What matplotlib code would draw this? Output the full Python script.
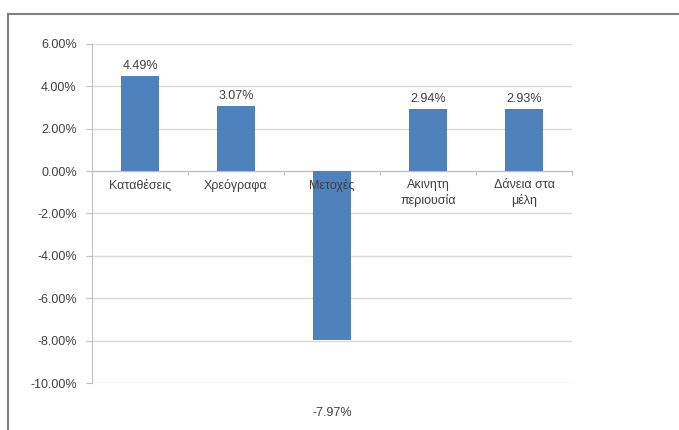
import matplotlib.pyplot as plt
import matplotlib.ticker as mticker
from matplotlib.lines import Line2D

categories = ['Καταθέσεις', 'Χρεόγραφα', 'Μετοχές', 'Ακινητη\nπεριουσία', 'Δάνεια στα\nμέλη']
values = [4.49, 3.07, -7.97, 2.94, 2.93]
value_labels = ['4.49%', '3.07%', '-7.97%', '2.94%', '2.93%']
yticks = [6, 4, 2, 0, -2, -4, -6, -8, -10]

plt.rcParams['font.family'] = ['Liberation Sans', 'DejaVu Sans']
fs = 9

fig = plt.figure(figsize=(6.79, 4.30), dpi=100)
ax = fig.add_axes([0.1355, 0.1093, 0.707, 0.7884])

x = list(range(len(categories)))
bars = ax.bar(x, values, width=0.39, color='#4F81BD', zorder=3)

ax.set_xlim(-0.5, len(categories) - 0.5)
ax.set_ylim(-10, 6)
ax.set_yticks(yticks)
ax.yaxis.set_major_formatter(mticker.FuncFormatter(lambda v, p: '%.2f%%' % v))
ax.grid(axis='y', color='#D9D9D9', linewidth=1, zorder=0)

for s in ['top', 'right']:
    ax.spines[s].set_visible(False)
ax.spines['left'].set_color('#BFBFBF')
ax.spines['bottom'].set_color('#BFBFBF')
ax.spines['bottom'].set_position(('data', 0))
ax.spines['bottom'].set_zorder(2)

ax.tick_params(axis='y', colors='#BFBFBF', labelcolor='#404040', labelsize=fs, length=4, pad=7)
ax.set_xticks([i - 0.5 for i in range(len(categories) + 1)])
ax.set_xticklabels([])
ax.tick_params(axis='x', length=3, colors='#BFBFBF', direction='out')

# category names sit just under the zero line, drawn over the bars
for xi, name in zip(x, categories):
    ax.annotate(name, (xi, 0), xytext=(0, -6), textcoords='offset points',
                ha='center', va='top', fontsize=fs, color='#404040',
                linespacing=1.25, zorder=6)

for b, v, lab in zip(bars, values, value_labels):
    if v >= 0:
        ax.annotate(lab, (b.get_x() + b.get_width() / 2, v), xytext=(0, 3),
                    textcoords='offset points', ha='center', va='bottom',
                    fontsize=fs, color='#404040')
    else:
        ax.annotate(lab, (b.get_x() + b.get_width() / 2, v), xytext=(0, -48),
                    textcoords='offset points', ha='center', va='top',
                    fontsize=fs, color='#404040', annotation_clip=False)

# outer chart frame (left and top edges)
fig.add_artist(Line2D([8 / 679, 8 / 679], [0, 1 - 14 / 430], color='#808080', linewidth=1.5))
fig.add_artist(Line2D([8 / 679, 1], [1 - 14 / 430, 1 - 14 / 430], color='#808080', linewidth=1.5))

fig.savefig('out.png', dpi=100)
